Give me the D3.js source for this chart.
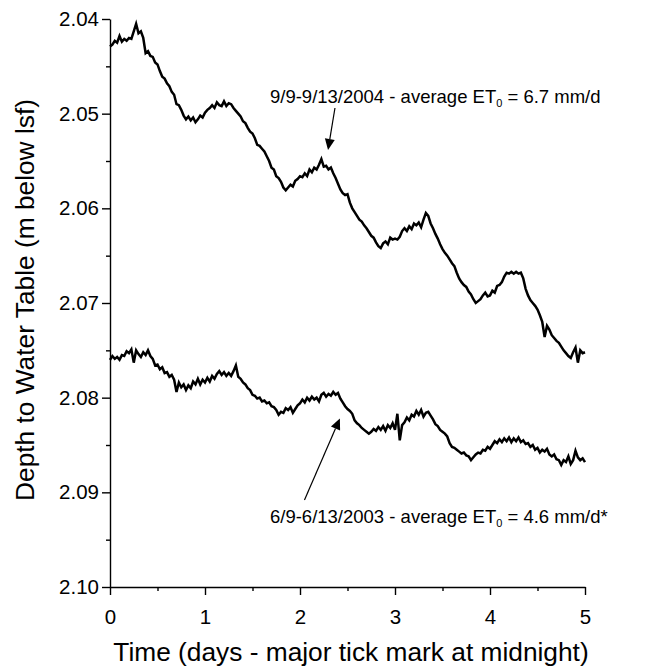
<!DOCTYPE html>
<html>
<head>
<meta charset="utf-8">
<script src="https://cdn.jsdelivr.net/npm/d3@7"></script>
<style>
  html, body { margin: 0; padding: 0; background: #fff; }
  svg { display: block; }
  text { font-family: "Liberation Sans", Arial, Helvetica, sans-serif; fill: #000; }
</style>
</head>
<body>
<svg id="chart" width="647" height="667"></svg>
<script>
// ---- data ----
const timeStep = 0.025; // days between samples
const xTicks = [0, 1, 2, 3, 4, 5];
const yTicks = [2.04, 2.05, 2.06, 2.07, 2.08, 2.09, 2.10];
const yTickLabels = ["2.04", "2.05", "2.06", "2.07", "2.08", "2.09", "2.10"];

// 9/9-9/13/2004 depth to water table (m below lsf)
const depth2004 = [
2.0429,2.0427,2.0423,2.0425,2.0418,2.0424,2.0421,2.0423,2.0420,2.0421,
2.0413,2.0405,2.0415,2.0413,2.0420,2.0436,2.0434,2.0439,2.0440,2.0446,
2.0448,2.0455,2.0461,2.0463,2.0468,2.0471,2.0477,2.0480,2.0490,2.0491,
2.0496,2.0502,2.0506,2.0503,2.0507,2.0504,2.0509,2.0506,2.0502,2.0504,
2.0499,2.0496,2.0494,2.0491,2.0494,2.0488,2.0491,2.0492,2.0487,2.0492,
2.0489,2.0490,2.0494,2.0497,2.0500,2.0503,2.0508,2.0510,2.0515,2.0519,
2.0521,2.0526,2.0533,2.0534,2.0537,2.0540,2.0545,2.0550,2.0557,2.0559,
2.0566,2.0568,2.0572,2.0578,2.0581,2.0578,2.0575,2.0577,2.0571,2.0569,
2.0566,2.0567,2.0563,2.0566,2.0559,2.0562,2.0557,2.0559,2.0554,2.0548,
2.0556,2.0555,2.0559,2.0557,2.0563,2.0568,2.0574,2.0580,2.0584,2.0586,
2.0585,2.0594,2.0600,2.0604,2.0608,2.0612,2.0614,2.0618,2.0621,2.0625,
2.0629,2.0631,2.0636,2.0640,2.0642,2.0637,2.0635,2.0638,2.0631,2.0633,
2.0632,2.0633,2.0630,2.0624,2.0621,2.0624,2.0619,2.0622,2.0616,2.0618,
2.0615,2.0620,2.0612,2.0605,2.0608,2.0616,2.0621,2.0627,2.0632,2.0638,
2.0643,2.0647,2.0650,2.0654,2.0658,2.0661,2.0668,2.0674,2.0678,2.0681,
2.0683,2.0688,2.0691,2.0696,2.0700,2.0698,2.0696,2.0692,2.0689,2.0693,
2.0692,2.0687,2.0689,2.0682,2.0681,2.0678,2.0672,2.0668,2.0669,2.0667,
2.0669,2.0667,2.0669,2.0668,2.0674,2.0685,2.0692,2.0697,2.0700,2.0703,
2.0707,2.0713,2.0720,2.0736,2.0724,2.0728,2.0734,2.0737,2.0740,2.0742,
2.0746,2.0750,2.0753,2.0756,2.0758,2.0752,2.0747,2.0763,2.0750,2.0753,
2.0752
];

// 6/9-6/13/2003 depth to water table (m below lsf)
const depth2003 = [
2.0760,2.0756,2.0759,2.0757,2.0760,2.0755,2.0756,2.0751,2.0753,2.0749,
2.0763,2.0750,2.0754,2.0757,2.0752,2.0755,2.0750,2.0756,2.0759,2.0766,
2.0765,2.0770,2.0768,2.0774,2.0773,2.0778,2.0776,2.0781,2.0794,2.0784,
2.0789,2.0786,2.0792,2.0787,2.0790,2.0783,2.0786,2.0780,2.0786,2.0781,
2.0784,2.0779,2.0783,2.0777,2.0780,2.0775,2.0772,2.0776,2.0773,2.0777,
2.0774,2.0777,2.0772,2.0766,2.0778,2.0780,2.0784,2.0786,2.0790,2.0792,
2.0797,2.0798,2.0801,2.0800,2.0804,2.0803,2.0806,2.0805,2.0809,2.0810,
2.0813,2.0818,2.0815,2.0816,2.0811,2.0813,2.0810,2.0816,2.0812,2.0808,
2.0806,2.0802,2.0805,2.0800,2.0803,2.0799,2.0802,2.0800,2.0804,2.0797,
2.0795,2.0799,2.0796,2.0798,2.0794,2.0797,2.0795,2.0801,2.0805,2.0809,
2.0812,2.0814,2.0817,2.0824,2.0827,2.0829,2.0832,2.0834,2.0836,2.0838,
2.0836,2.0833,2.0835,2.0831,2.0834,2.0830,2.0835,2.0829,2.0832,2.0827,
2.0834,2.0817,2.0845,2.0829,2.0826,2.0821,2.0824,2.0818,2.0820,2.0814,
2.0818,2.0813,2.0820,2.0816,2.0815,2.0819,2.0823,2.0828,2.0830,2.0834,
2.0836,2.0838,2.0841,2.0848,2.0852,2.0853,2.0855,2.0857,2.0859,2.0858,
2.0861,2.0862,2.0866,2.0863,2.0860,2.0858,2.0859,2.0855,2.0856,2.0852,
2.0854,2.0850,2.0846,2.0848,2.0844,2.0847,2.0843,2.0846,2.0842,2.0847,
2.0843,2.0846,2.0842,2.0847,2.0845,2.0849,2.0848,2.0852,2.0850,2.0855,
2.0853,2.0858,2.0855,2.0857,2.0854,2.0860,2.0862,2.0860,2.0865,2.0866,
2.0871,2.0866,2.0868,2.0862,2.0870,2.0866,2.0856,2.0863,2.0866,2.0864,
2.0868
];

// annotations (positions in data units: [days, depth])
const labels = [
  { pre: "9/9-9/13/2004 - average ET", sub: "0", post: " = 6.7 mm/d", at: [1.684, 2.04887],
    arrowFrom: [2.368, 2.0494], arrowTo: [2.295, 2.05384] },
  { pre: "6/9-6/13/2003 - average ET", sub: "0", post: " = 4.6 mm/d*", at: [1.684, 2.09324],
    arrowFrom: [2.047, 2.0908], arrowTo: [2.42, 2.0822] }
];
const xTitle = "Time (days - major tick mark at midnight)";
const yTitle = "Depth to Water Table (m below lsf)";

// ---- layout ----
const svg = d3.select("#chart");
const x = d3.scaleLinear().domain([0, 5]).range([110, 585]);
const y = d3.scaleLinear().domain([2.04, 2.10]).range([19, 587]);

// minor ticks
const xMinor = d3.range(0.5, 5, 1);
const yMinor = d3.range(2.045, 2.1, 0.01);

const gx = svg.append("g").attr("transform", `translate(0,${y(2.10)})`);
gx.call(d3.axisBottom(x).tickValues(xTicks).tickFormat(d3.format("d")).tickSize(8).tickSizeOuter(0).tickPadding(14));
gx.append("g").call(d3.axisBottom(x).tickValues(xMinor).tickFormat("").tickSize(4).tickSizeOuter(0))
  .select(".domain").remove();

const gy = svg.append("g").attr("transform", `translate(${x(0)},0)`);
gy.call(d3.axisLeft(y).tickValues(yTicks).tickFormat((d, i) => yTickLabels[i]).tickSize(8).tickSizeOuter(0).tickPadding(3));
gy.append("g").call(d3.axisLeft(y).tickValues(yMinor).tickFormat("").tickSize(4).tickSizeOuter(0))
  .select(".domain").remove();

svg.selectAll(".domain").attr("stroke", "#000").attr("stroke-width", 1.4);
svg.selectAll(".tick line").attr("stroke", "#000").attr("stroke-width", 1.4);
svg.selectAll(".tick text").attr("font-size", "20.5px")
   .attr("font-family", "'Liberation Sans', Arial, sans-serif").attr("fill", "#000");

// lines
const line = d3.line().x((d, i) => x(i * timeStep)).y(d => y(d));
[depth2004, depth2003].forEach(s => {
  svg.append("path").datum(s).attr("d", line)
    .attr("fill", "none").attr("stroke", "#000").attr("stroke-width", 2.5)
    .attr("stroke-linejoin", "miter");
});

// annotations
labels.forEach(a => {
  const t = svg.append("text").attr("x", x(a.at[0])).attr("y", y(a.at[1]))
    .attr("font-size", "18.5px");
  t.append("tspan").text(a.pre);
  t.append("tspan").text(a.sub).attr("font-size", "11px").attr("dy", 4);
  t.append("tspan").text(a.post).attr("dy", -4);

  const x1 = x(a.arrowFrom[0]), y1 = y(a.arrowFrom[1]);
  const x2 = x(a.arrowTo[0]), y2 = y(a.arrowTo[1]);
  const ang = Math.atan2(y2 - y1, x2 - x1);
  const L = 11, W = 5;
  const bx = x2 - L * Math.cos(ang), by = y2 - L * Math.sin(ang);
  svg.append("line").attr("x1", x1).attr("y1", y1).attr("x2", bx).attr("y2", by)
    .attr("stroke", "#000").attr("stroke-width", 1.2);
  const px = -Math.sin(ang) * W, py = Math.cos(ang) * W;
  svg.append("path")
    .attr("d", `M${x2},${y2}L${bx + px},${by + py}L${bx - px},${by - py}Z`)
    .attr("fill", "#000");
});

// axis titles
svg.append("text").attr("x", 351).attr("y", 661).attr("text-anchor", "middle")
  .attr("font-size", "26.3px").text(xTitle);
svg.append("text").attr("transform", `translate(34,300) rotate(-90)`)
  .attr("text-anchor", "middle").attr("font-size", "26.3px").text(yTitle);
</script>
</body>
</html>
